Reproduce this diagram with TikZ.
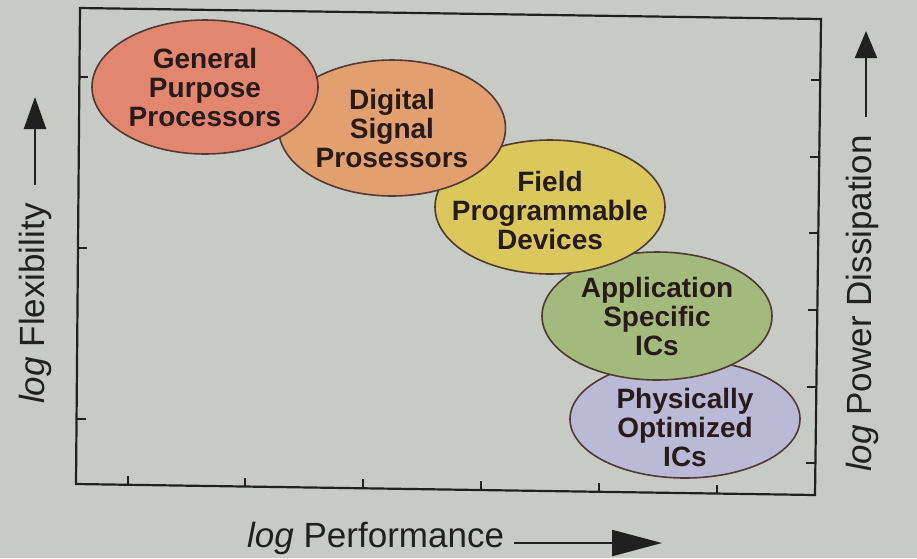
\documentclass[tikz,border=0pt]{standalone}
\usepackage{fontspec}
\setmainfont{Liberation Sans}
\usetikzlibrary{shapes.geometric,arrows.meta}

\definecolor{paper}{RGB}{200,203,197}
\definecolor{ink}{RGB}{32,32,32}
\definecolor{rim}{RGB}{80,58,52}
\definecolor{blobink}{RGB}{40,26,24}
\definecolor{gppfill}{RGB}{226,134,112}
\definecolor{dspfill}{RGB}{226,160,112}
\definecolor{fpdfill}{RGB}{218,200,92}
\definecolor{asicfill}{RGB}{164,186,124}
\definecolor{poicfill}{RGB}{186,186,214}

\tikzset{
  blob/.style={ellipse, draw=rim, line width=1.6pt, inner sep=0pt},
  blobtext/.style={align=center, text=blobink, inner sep=0pt,
    font=\bfseries\fontsize{28}{29}\selectfont},
  axlabel/.style={text=ink, inner sep=0pt, font=\fontsize{35}{40}\selectfont},
  axarrow/.style={draw=ink, line width=2.2pt},
  axtick/.style={draw=ink, line width=1.8pt},
}

\begin{document}
\begin{tikzpicture}[x=1pt,y=-1pt]
\path[use as bounding box,fill=paper] (0,0) rectangle (917,558);

% frame (slightly skewed, as printed)
\coordinate (tl) at (80,8);
\coordinate (tr) at (821,19);
\coordinate (br) at (815,495);
\coordinate (bl) at (76,484);
\draw[axtick,line width=2.2pt,line join=miter] (tl) -- (tr) -- (br) -- (bl) -- cycle;

% ticks
\foreach \x/\y in {128/484.8,245/486.5,363/488.3,481/490.0,599/491.8,717/493.5}
  \draw[axtick] (\x,\y) -- ++(0,-9);
\foreach \x/\y in {79.4/77,78.0/248,76.5/419}
  \draw[axtick] (\x,\y) -- ++(9,0);
\foreach \x/\y in {820.2/80,819.3/157,818.3/233,817.3/310,816.4/387,815.4/463}
  \draw[axtick] (\x,\y) -- ++(-9,0);

% device classes, back to front
\node[blob,fill=poicfill,minimum width=230pt,minimum height=118pt] (poic) at (685,419) {};
\node[blobtext] (poicText) at ([yshift=-8pt]poic.center) {Physically\\Optimized\\ICs};

\node[blob,fill=asicfill,minimum width=230pt,minimum height=128pt] (asic) at (657,316) {};
\node[blobtext] (asicText) at (asic.center) {Application\\Specific\\ICs};

\node[blob,fill=fpdfill,minimum width=230pt,minimum height=134pt] (fpd) at (550,207) {};
\node[blobtext] (fpdText) at ([yshift=-3pt]fpd.center) {Field\\Programmable\\Devices};

\node[blob,fill=dspfill,minimum width=227pt,minimum height=136pt] (dsp) at (392,128) {};
\node[blobtext] (dspText) at (dsp.center) {Digital\\Signal\\Prosessors};

\node[blob,fill=gppfill,minimum width=226pt,minimum height=134pt] (gpp) at (205,87) {};
\node[blobtext] (gppText) at (gpp.center) {General\\Purpose\\Processors};

% axis labels
\node[axlabel,anchor=base west] (perf) at (247,547) {\textit{log} Performance};
\coordinate (perfTip) at (662,543);
\draw[axarrow,-{Triangle[length=50pt,width=26pt]}] ([xshift=10pt,yshift=4pt]perf.base east) -- (perfTip);

\node[axlabel,rotate=90,anchor=west] (flex) at (35,404) {\textit{log} Flexibility};
\coordinate (flexTip) at (35,97);
\draw[axarrow,-{Triangle[length=32pt,width=22pt]}] ([yshift=18pt]flex.east) -- (flexTip);

\node[axlabel,rotate=90,anchor=west] (power) at (862,472) {\textit{log} Power Dissipation};
\coordinate (powerTip) at (866,31);
\draw[axarrow,-{Triangle[length=27pt,width=22pt]}] ([xshift=4pt,yshift=18pt]power.east) -- (powerTip);
\end{tikzpicture}
\end{document}
